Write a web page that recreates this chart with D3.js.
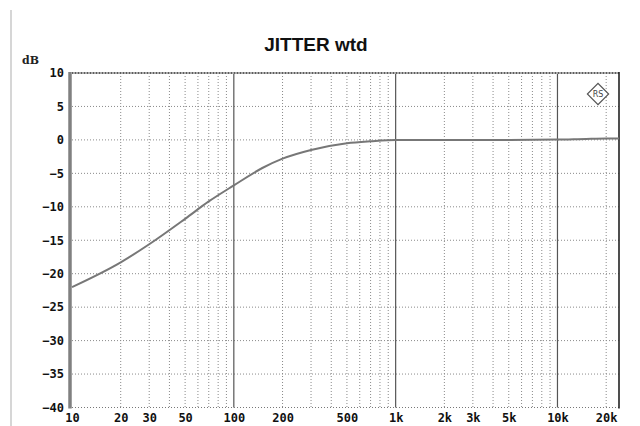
<!DOCTYPE html>
<html><head><meta charset="utf-8">
<script src="https://cdn.jsdelivr.net/npm/d3@7"></script>
<style>body{margin:0;background:#fff}svg{display:block}</style>
</head><body>
<svg id="c" width="640" height="426"></svg>
<script>
const title = "JITTER wtd";
const yUnit = "dB";
const freqs = [10, 20, 30, 50, 70, 100, 150, 200, 300, 500, 700, 1000, 2000, 5000, 10000, 15000, 20000, 24000];
const dbVals = [-22.0, -18.3, -15.6, -11.8, -9.2, -6.8, -4.2, -2.8, -1.5, -0.5, -0.2, 0, 0, 0, 0.05, 0.15, 0.2, 0.2];
const xTickVals = [10, 20, 30, 50, 100, 200, 500, 1000, 2000, 3000, 5000, 10000, 20000];
const xTickLabels = ["10", "20", "30", "50", "100", "200", "500", "1k", "2k", "3k", "5k", "10k", "20k"];
const yTickVals = [10, 5, 0, -5, -10, -15, -20, -25, -30, -35, -40];
const yTickLabels = ["10", "5", "0", "\u22125", "\u221210", "\u221215", "\u221220", "\u221225", "\u221230", "\u221235", "\u221240"];

const svg = d3.select("#c");
const L = 72, R = 619, T = 73, B = 407.5;
const x = d3.scaleLog().domain([10, 24000]).range([L, R]);
const y = d3.scaleLinear().domain([-40, 10]).range([B, T]);

// outer frame line
svg.append("line").attr("x1", 11).attr("x2", 11).attr("y1", 10).attr("y2", 426)
  .attr("stroke", "#c8c8c8").attr("stroke-width", 1.5);

// title
svg.append("text").attr("x", 316).attr("y", 51).attr("text-anchor", "middle")
  .attr("font-family", "Liberation Sans, Arial, sans-serif").attr("font-weight", "bold")
  .attr("font-size", 19).attr("fill", "#111").text(title);

svg.append("text").attr("x", 22).attr("y", 64)
  .attr("font-family", "DejaVu Serif, serif").attr("font-weight", "bold")
  .attr("font-size", 11).attr("fill", "#222").text(yUnit);

// minor vertical grid
const minor = [];
[10, 100, 1000, 10000].forEach(d => { for (let k = 2; k <= 9; k++) { const v = d * k; if (v < 24000) minor.push(v); } });
const g = svg.append("g");
g.selectAll(".vm").data(minor).enter().append("line")
  .attr("x1", d => x(d)).attr("x2", d => x(d)).attr("y1", T).attr("y2", B)
  .attr("stroke", "#8a8a8a").attr("stroke-width", 1).attr("stroke-dasharray", "1,2");
// horizontal grid
g.selectAll(".hm").data(yTickVals.filter(v => v > -40 && v < 10)).enter().append("line")
  .attr("x1", L).attr("x2", R).attr("y1", d => y(d)).attr("y2", d => y(d))
  .attr("stroke", "#8a8a8a").attr("stroke-width", 1).attr("stroke-dasharray", "1,2");
// major vertical lines
g.selectAll(".vM").data([100, 1000, 10000]).enter().append("line")
  .attr("x1", d => x(d)).attr("x2", d => x(d)).attr("y1", T).attr("y2", B)
  .attr("stroke", "#555").attr("stroke-width", 1.2);

// borders
svg.append("line").attr("x1", L).attr("x2", R).attr("y1", T).attr("y2", T)
  .attr("stroke", "#aaa").attr("stroke-width", 2);
svg.append("line").attr("x1", L).attr("x2", R).attr("y1", T).attr("y2", T)
  .attr("stroke", "#444").attr("stroke-width", 1.5).attr("stroke-dasharray", "1,2");
svg.append("line").attr("x1", L).attr("x2", R).attr("y1", B).attr("y2", B)
  .attr("stroke", "#777").attr("stroke-width", 1.2).attr("stroke-dasharray", "1,2");
svg.append("line").attr("x1", R).attr("x2", R).attr("y1", T - 1).attr("y2", B + 1)
  .attr("stroke", "#222").attr("stroke-width", 1.6);
svg.append("line").attr("x1", L - 2).attr("x2", L - 2).attr("y1", T - 1).attr("y2", B + 1)
  .attr("stroke", "#808080").attr("stroke-width", 3.5);

// curve
const pts = freqs.map((f, i) => [f, dbVals[i]]);
svg.append("path").datum(pts)
  .attr("d", d3.line().x(d => x(d[0])).y(d => y(d[1])).curve(d3.curveMonotoneX))
  .attr("fill", "none").attr("stroke", "#777").attr("stroke-width", 2);

// axes
const xAxis = d3.axisBottom(x).tickValues(xTickVals).tickFormat((d, i) => xTickLabels[i]).tickSize(0).tickPadding(6);
const xa = svg.append("g").attr("transform", `translate(0,${B})`).call(xAxis);
xa.select(".domain").remove();
xa.selectAll("text").attr("font-family", "DejaVu Sans Mono, monospace").attr("font-weight", "bold")
  .attr("font-size", 12).attr("fill", "#111");

const yAxis = d3.axisLeft(y).tickValues(yTickVals).tickFormat((d, i) => yTickLabels[i]).tickSize(0).tickPadding(7);
const ya = svg.append("g").attr("transform", `translate(${L - 1},0)`).call(yAxis);
ya.select(".domain").remove();
ya.selectAll("text").attr("font-family", "DejaVu Sans Mono, monospace").attr("font-weight", "bold")
  .attr("font-size", 12).attr("fill", "#111");

// logo
const lg = svg.append("g").attr("transform", "translate(598,94)");
lg.append("rect").attr("x", -7.5).attr("y", -7.5).attr("width", 15).attr("height", 15)
  .attr("transform", "rotate(45)").attr("fill", "#fff").attr("stroke", "#555").attr("stroke-width", 1.2);
lg.append("text").attr("x", 0).attr("y", 3).attr("text-anchor", "middle")
  .attr("font-family", "DejaVu Sans, sans-serif").attr("font-size", 8).attr("fill", "#444").text("RS");
</script>
</body></html>
